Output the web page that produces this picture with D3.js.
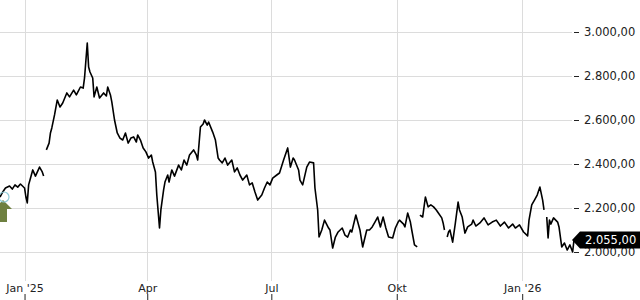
<!DOCTYPE html>
<html>
<head>
<meta charset="utf-8">
<script src="https://cdn.jsdelivr.net/npm/d3@7"></script>
<style>
  body { margin: 0; background: #fff; }
  svg { display: block; font-family: "DejaVu Sans", sans-serif; }
</style>
</head>
<body>
<svg width="640" height="300"></svg>
<script>
// price history (null = gap in the data)
var dates = [
  "2024-12-14","2024-12-16","2024-12-18","2024-12-21","2024-12-23","2024-12-25","2024-12-27","2024-12-29",
  "2025-01-01","2025-01-02","2025-01-03","2025-01-04","2025-01-06","2025-01-07","2025-01-09","2025-01-12",
  "2025-01-14","2025-01-15","2025-01-16","2025-01-17","2025-01-19","2025-01-20","2025-01-21","2025-01-23",
  "2025-01-25","2025-01-27","2025-01-29","2025-02-01","2025-02-03","2025-02-06","2025-02-08","2025-02-11",
  "2025-02-13","2025-02-14","2025-02-16","2025-02-17","2025-02-18","2025-02-20","2025-02-21","2025-02-23",
  "2025-02-25","2025-02-28","2025-03-02","2025-03-03","2025-03-05","2025-03-06","2025-03-08","2025-03-10",
  "2025-03-12","2025-03-14","2025-03-16","2025-03-18","2025-03-20","2025-03-22","2025-03-24","2025-03-25",
  "2025-03-27","2025-03-29","2025-03-31","2025-04-02","2025-04-04","2025-04-05","2025-04-07","2025-04-08",
  "2025-04-10","2025-04-11","2025-04-13","2025-04-14","2025-04-16","2025-04-17","2025-04-19","2025-04-21",
  "2025-04-24","2025-04-26","2025-04-28","2025-04-30","2025-05-02","2025-05-05","2025-05-07","2025-05-08",
  "2025-05-10","2025-05-12","2025-05-13","2025-05-15","2025-05-16","2025-05-19","2025-05-21","2025-05-23",
  "2025-05-24","2025-05-26","2025-05-28","2025-05-30","2025-06-02","2025-06-04","2025-06-06","2025-06-08",
  "2025-06-10","2025-06-13","2025-06-15","2025-06-17","2025-06-19","2025-06-21","2025-06-24","2025-06-26",
  "2025-06-28","2025-06-30","2025-07-02","2025-07-05","2025-07-07","2025-07-10","2025-07-13","2025-07-15",
  "2025-07-17","2025-07-18","2025-07-21","2025-07-22","2025-07-24","2025-07-27","2025-07-29","2025-08-01",
  "2025-08-02","2025-08-04","2025-08-05","2025-08-07","2025-08-09","2025-08-12","2025-08-13","2025-08-15",
  "2025-08-17","2025-08-19","2025-08-22","2025-08-24","2025-08-26","2025-08-28","2025-08-29","2025-09-01",
  "2025-09-04","2025-09-06","2025-09-09","2025-09-11","2025-09-13","2025-09-15","2025-09-17","2025-09-19",
  "2025-09-21","2025-09-23","2025-09-25","2025-09-28","2025-09-30","2025-10-02","2025-10-03","2025-10-06",
  "2025-10-07","2025-10-09","2025-10-11","2025-10-12","2025-10-14","2025-10-16","2025-10-17","2025-10-18",
  "2025-10-20","2025-10-22","2025-10-24","2025-10-26","2025-10-28","2025-10-30","2025-10-31","2025-11-03",
  "2025-11-04","2025-11-05","2025-11-06","2025-11-07","2025-11-08","2025-11-09","2025-11-11","2025-11-13",
  "2025-11-15","2025-11-16","2025-11-18","2025-11-20","2025-11-22","2025-11-25","2025-11-26","2025-11-28",
  "2025-12-01","2025-12-04","2025-12-07","2025-12-10","2025-12-13","2025-12-16","2025-12-19","2025-12-22",
  "2025-12-25","2025-12-27","2025-12-30","2026-01-02","2026-01-05","2026-01-06","2026-01-08","2026-01-10",
  "2026-01-12","2026-01-14","2026-01-16","2026-01-17","2026-01-18","2026-01-19","2026-01-20","2026-01-21",
  "2026-01-22","2026-01-24","2026-01-27","2026-01-28","2026-01-30","2026-02-01","2026-02-03","2026-02-05",
  "2026-02-07","2026-02-08"
];
var prices = [
  2250,2273,2291,2300,2286,2305,2295,2309,
  2291,2250,2223,2305,2350,2373,2345,2386,
  2364,2345,null,2464,2495,2541,2564,2623,
  2691,2659,2677,2723,2705,2736,2714,2750,
  2745,2791,2950,2841,2818,2791,2705,2750,
  2700,2723,2709,2750,2714,2682,2600,2541,
  2518,2509,2541,2495,2518,2523,2500,2532,
  2509,2473,2455,2427,2441,2409,2364,2259,
  2109,2191,2282,2318,2350,2318,2373,2345,
  2395,2373,2418,2395,2441,2464,2441,2418,
  2568,2582,2600,2577,2591,2545,2509,2427,
  2418,2405,2427,2395,2418,2364,2382,2350,
  2327,2350,2305,2314,2273,2236,2259,2291,
  2318,2305,2336,2350,2359,2418,2473,2386,
  2427,2418,2373,2327,2305,2386,2409,2405,
  2291,2191,2068,2100,2145,2109,2100,2018,
  2068,2091,2109,2077,2068,2100,2091,2168,
  2100,2023,2100,2100,2114,2136,2159,2114,
  2159,2109,2068,2064,2109,2136,2145,2127,
  2114,2177,2136,2100,2032,2023,null,2168,
  2159,2250,2205,2214,2205,2191,2182,2155,
  2132,2100,null,2068,2091,2100,2045,2132,
  2227,2191,2159,2086,2114,2127,2145,2118,
  2132,2155,2123,2136,2145,2118,2136,2109,
  2127,2109,2123,2091,2073,2145,2214,2236,
  2259,2295,2236,2191,null,2159,2064,2145,
  2127,2155,2136,2114,2023,2041,2009,2032,
  2000,2055
];

var xTickDates = ["2025-01-01", "2025-04-01", "2025-07-01", "2025-10-01", "2026-01-01"];
var xTickLabels = ["Jan '25", "Apr", "Jul", "Okt", "Jan '26"];
var yTicks = [2000, 2200, 2400, 2600, 2800, 3000];
var lastPrice = 2055;

var parse = d3.timeParse("%Y-%m-%d");
var de = d3.formatLocale({ decimal: ",", thousands: ".", grouping: [3], currency: ["", " €"] });
var fmt = de.format(",.2f");

var data = dates.map(function(d, i) {
  return { date: parse(d), price: prices[i] };
});

var svg = d3.select("svg");

var x = d3.scaleTime()
  .domain([parse("2024-12-14"), parse("2026-02-08")])
  .range([0, 574]);

var y = d3.scaleLinear()
  .domain([2000, 3000])
  .range([252, 32]);

// grid
svg.append("g")
  .selectAll("line")
  .data(yTicks)
  .enter()
  .append("line")
  .attr("x1", 0)
  .attr("x2", 572)
  .attr("y1", function(d) { return y(d) + 0.5; })
  .attr("y2", function(d) { return y(d) + 0.5; })
  .attr("stroke", "#dcdcdc");

svg.append("g")
  .selectAll("line")
  .data(xTickDates)
  .enter()
  .append("line")
  .attr("x1", function(d) { return Math.round(x(parse(d))) + 0.5; })
  .attr("x2", function(d) { return Math.round(x(parse(d))) + 0.5; })
  .attr("y1", 0)
  .attr("y2", 281)
  .attr("stroke", "#dcdcdc");

// x axis
var xAxis = svg.append("g")
  .attr("transform", "translate(0,294)")
  .call(d3.axisBottom(x)
    .tickValues(xTickDates.map(parse))
    .tickSize(6)
    .tickFormat(function(d, i) { return xTickLabels[i]; }));
xAxis.select(".domain").remove();
xAxis.selectAll(".tick line").attr("stroke", "#222");
xAxis.selectAll(".tick text")
  .attr("y", -2)
  .attr("dy", 0)
  .attr("fill", "#222")
  .style("font-size", "11px")
  .style("font-family", "DejaVu Sans");

// y axis
var yAxis = svg.append("g")
  .attr("transform", "translate(574,0)")
  .call(d3.axisRight(y)
    .tickValues(yTicks)
    .tickSize(5)
    .tickPadding(5)
    .tickFormat(fmt));
yAxis.select(".domain").remove();
yAxis.selectAll(".tick line").attr("stroke", "#222");
yAxis.selectAll(".tick text")
  .attr("fill", "#222")
  .style("font-size", "11.5px")
  .style("font-family", "DejaVu Sans");

// price line
var line = d3.line()
  .defined(function(d) { return d.price != null; })
  .x(function(d) { return x(d.date); })
  .y(function(d) { return y(d.price); });

svg.append("path")
  .datum(data)
  .attr("d", line)
  .attr("fill", "none")
  .attr("stroke", "#000")
  .attr("stroke-width", 1.6)
  .attr("stroke-linejoin", "round");

// buy marker at the start
var first = data[0];
var mx = x(first.date) + 3, my = y(first.price);
svg.append("path")
  .attr("d", "M" + mx + "," + (my + 3) + "l9,9h-5v13h-8v-13h-5z")
  .attr("fill", "#6e8040");
svg.append("circle")
  .attr("cx", mx + 1)
  .attr("cy", my)
  .attr("r", 5)
  .attr("fill", "none")
  .attr("stroke", "#8fcbd8")
  .attr("stroke-width", 1.2);

// last price tag
var ly = y(lastPrice);
svg.append("path")
  .attr("d", "M572," + ly + "l8,-8.5h60v17h-60z")
  .attr("fill", "#000");
svg.append("text")
  .attr("x", 585)
  .attr("y", ly + 4)
  .attr("fill", "#fff")
  .style("font-size", "11.5px")
  .text(fmt(lastPrice));
</script>
</body>
</html>
